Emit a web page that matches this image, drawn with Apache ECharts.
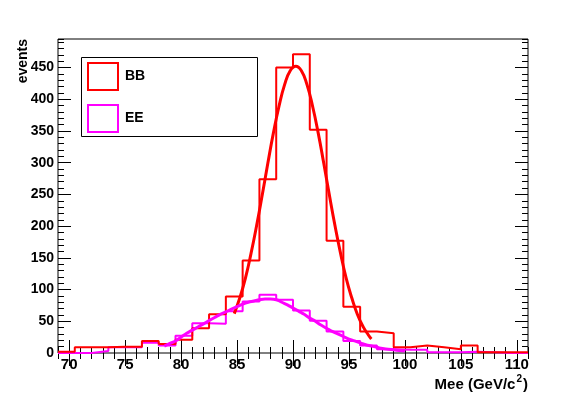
<!DOCTYPE html>
<html>
<head>
<meta charset="utf-8">
<script src="https://cdn.jsdelivr.net/npm/echarts@6/dist/echarts.min.js"></script>
<style>
html,body{margin:0;padding:0;background:#fff;}
#chart{width:587px;height:394px;}
</style>
</head>
<body>
<div id="chart"></div>
<script>
// ---- data ----
const binEdges = [69,70.5,72,73.5,75,76.5,78,79.5,81,82.5,84,85.5,87,88.5,90,91.5,93,94.5,96,97.5,99,100.5,102,103.5,105,106.5,108,109.5,111];
const bbCounts = [2,9,9,10,10,19,14,21,39,61,89,146,274,450,471,352,177,73,34,31,9,12,9,6,12,1,1,1];
const eeCounts = [0,0,3,9,9,16,12,27,47,46,66,81,92,84,67,51,34,19,12,6,5,5,1,1,2,1,0,0];

const bbFitX = [84.75,85.25,85.75,86.25,86.75,87.25,87.75,88.25,88.75,89.25,89.75,90.25,90.75,91.25,91.75,92.25,92.75,93.25,93.75,94.25,94.75,95.25,95.75,96.25,96.75,97.0];
const bbFitY = [62,87,118,157,201,249,299,347,389,423,445,452,445,423,389,347,299,249,201,157,118,87,61,42,28,22];

const eeFitX = [78.5,79,79.5,80,80.5,81,81.5,82,82.5,83,83.5,84,84.5,85,85.5,86,86.5,87,87.5,88,88.5,89,89.5,90,90.5,91,91.5,92,92.5,93,93.5,94,94.5,95,95.5,96,96.5,97,97.5,98,98.5,99,99.5,100];
const eeFitY = [11,15,19,25,31,36,41,46,51,56,61,65,69,73,77,80,82,84,85,85,84,80,76,71,66,61,55,50,44,39,34,30,26,22,19,16,13,11,9,7,6,5,4,3];

const xMajor = [70,75,80,85,90,95,100,105,110];
const yMajor = [0,50,100,150,200,250,300,350,400,450];
const seriesNames = ['BB','EE'];
const xTitleMain = 'Mee (GeV/c';
const xTitleSup = '2';
const xTitleEnd = ')';
const yTitle = 'events';

// ---- build step outlines ----
function steps(counts){
  const pts = [];
  for (let i = 0; i < counts.length; i++) {
    pts.push([binEdges[i], counts[i]]);
    pts.push([binEdges[i+1], counts[i]]);
  }
  return pts;
}
function zip(xs, ys){ return xs.map((x,i)=>[x, ys[i]]); }

const FONT = '"Liberation Sans", Arial, Helvetica, sans-serif';
const RED = '#ff0000', MAG = '#ff00ff';

const xMin = 69, xMax = 111, yMin = 0, yMax = 495;

function xAx(position, major, labels){
  return {
    type:'value', min:xMin, max:xMax, position:position, gridIndex:0,
    interval: major ? undefined : 1,
    axisLine:{show:false}, splitLine:{show:false},
    axisTick: major ? {show:true, inside:true, length:13, customValues:xMajor, lineStyle:{color:'#000',width:1}}
                    : {show:true, inside:true, length:6, lineStyle:{color:'#000',width:1}},
    axisLabel: labels ? {show:true, customValues:xMajor, margin:4, color:'#000', fontSize:15, fontWeight:'bold', fontFamily:FONT}
                      : {show:false}
  };
}
function yAx(position, major, labels){
  return {
    type:'value', min:yMin, max:yMax, position:position, gridIndex:0,
    interval: major ? undefined : 10,
    axisLine:{show:false}, splitLine:{show:false},
    axisTick: major ? {show:true, inside:true, length:13, customValues:yMajor, lineStyle:{color:'#000',width:1}}
                    : {show:true, inside:true, length:6, lineStyle:{color:'#000',width:1}},
    axisLabel: labels ? {show:true, customValues:yMajor, margin:4, color:'#000', fontSize:14, fontWeight:'bold', fontFamily:FONT}
                      : {show:false}
  };
}

const chart = echarts.init(document.getElementById('chart'), null, {renderer:'canvas'});
chart.setOption({
  animation:false,
  backgroundColor:'#fff',
  grid:{left:58, top:39, width:470, height:314, show:true, borderColor:'#000', borderWidth:1, backgroundColor:'#fff'},
  xAxis:[xAx('bottom',true,true), xAx('bottom',false,false), xAx('top',true,false), xAx('top',false,false)],
  yAxis:[yAx('left',true,true), yAx('left',false,false), yAx('right',true,false), yAx('right',false,false)],
  legend:{
    show:true, orient:'vertical', left:87, top:62, itemWidth:30, itemHeight:27, itemGap:13, padding:0, z:20,
    icon:'rect', selectedMode:false,
    textStyle:{color:'#000', fontSize:14, fontWeight:'bold', fontFamily:FONT, padding:[0,0,0,2]},
    data:[
      {name:seriesNames[0], icon:'rect', itemStyle:{color:'rgba(0,0,0,0)', borderColor:RED, borderWidth:2}},
      {name:seriesNames[1], icon:'rect', itemStyle:{color:'rgba(0,0,0,0)', borderColor:MAG, borderWidth:2}}
    ]
  },
  graphic:{elements:[
    {type:'rect', left:81, top:57, z:10, shape:{width:176, height:79}, style:{fill:'#fff', stroke:'#000', lineWidth:1}},
    {type:'text', x:23, y:39, z:10, rotation:Math.PI/2, style:{text:yTitle, align:'right', verticalAlign:'middle', fill:'#000', font:'bold 14px '+FONT}},
    {type:'text', x:528, y:383, z:10, style:{
      text:'{a|'+xTitleMain+'}{s|'+xTitleSup+'}{a|'+xTitleEnd+'}', align:'right', verticalAlign:'middle',
      rich:{
        a:{fontSize:15, fontWeight:'bold', fontFamily:FONT, fill:'#000', lineHeight:18, verticalAlign:'bottom'},
        s:{fontSize:10, fontWeight:'bold', fontFamily:FONT, fill:'#000', lineHeight:18, verticalAlign:'top', padding:[0,1,0,1]}
      }
    }}
  ]},
  series:[
    {name:seriesNames[1], type:'line', xAxisIndex:0, yAxisIndex:0, data:steps(eeCounts), showSymbol:false, symbol:'none',
     lineStyle:{color:MAG, width:2}, itemStyle:{color:MAG}, z:2},
    {name:seriesNames[0], type:'line', xAxisIndex:0, yAxisIndex:0, data:steps(bbCounts), showSymbol:false, symbol:'none',
     lineStyle:{color:RED, width:2}, itemStyle:{color:RED}, z:3},
    {name:'BB fit', type:'line', xAxisIndex:0, yAxisIndex:0, data:zip(bbFitX,bbFitY), showSymbol:false, symbol:'none', smooth:true,
     lineStyle:{color:RED, width:3}, z:4},
    {name:'EE fit', type:'line', xAxisIndex:0, yAxisIndex:0, data:zip(eeFitX,eeFitY), showSymbol:false, symbol:'none', smooth:true,
     lineStyle:{color:MAG, width:3}, z:5}
  ]
});
</script>
</body>
</html>
